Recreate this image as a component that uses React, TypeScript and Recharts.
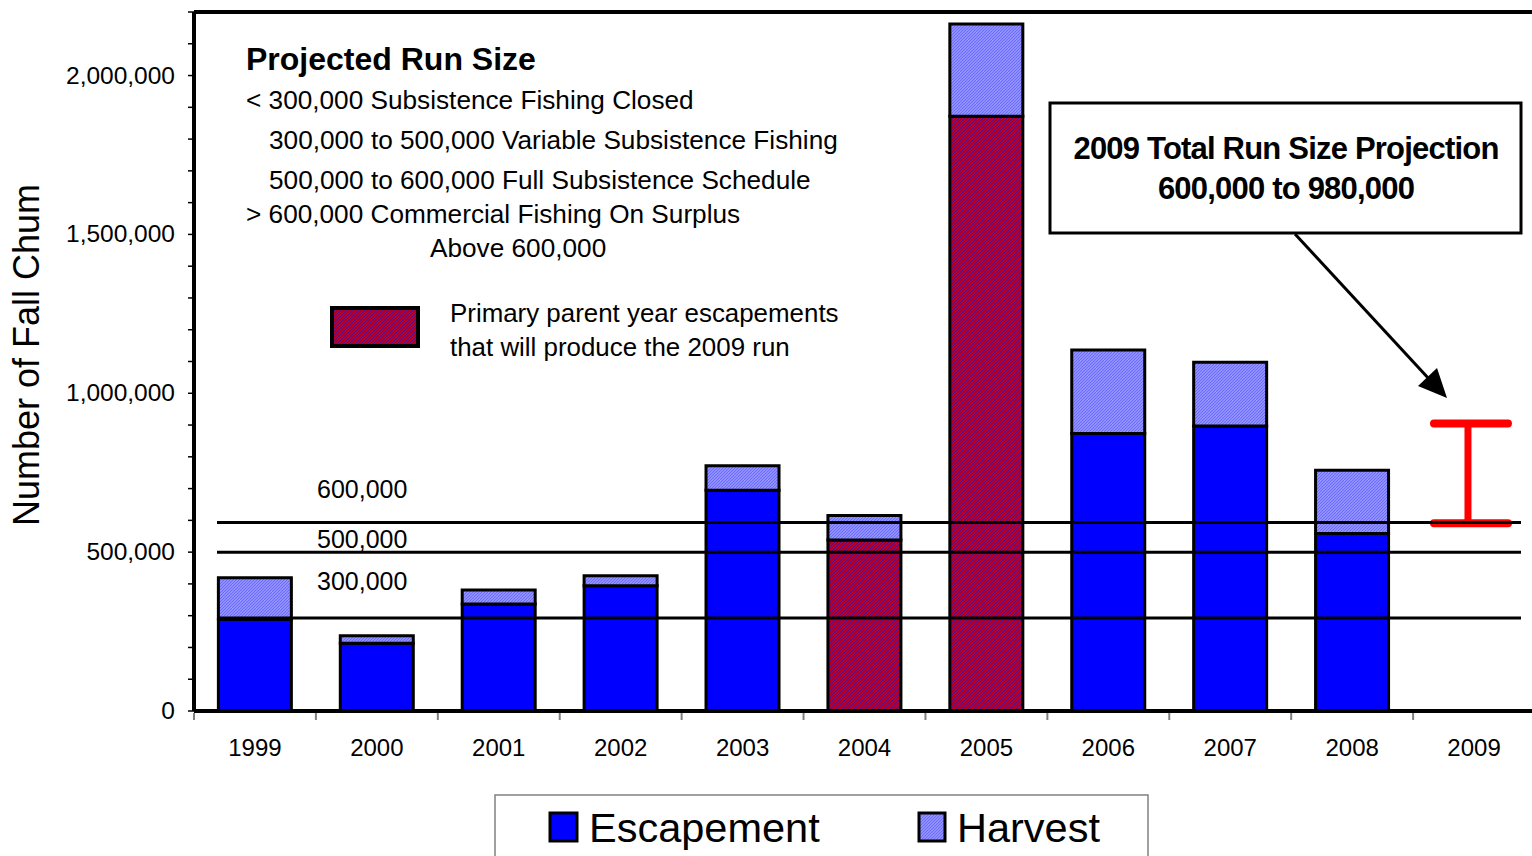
import React from 'react';
import { BarChart, Bar, XAxis, YAxis, ReferenceLine, Cell } from 'recharts';

const years = ['1999', '2000', '2001', '2002', '2003', '2004', '2005', '2006', '2007', '2008', '2009'];
const escapement = [289000, 213000, 337000, 394000, 695000, 538000, 1872000, 873000, 897000, 559000, null];
const harvest = [130000, 24000, 44000, 32000, 77000, 77000, 290000, 263000, 201000, 199000, null];
const parentYears = ['2004', '2005'];
const projectionYear = '2009';
const projectionLow = 591000;
const projectionHigh = 905000;
const yTicks = [0, 100000, 200000, 300000, 400000, 500000, 600000, 700000, 800000, 900000, 1000000, 1100000, 1200000, 1300000, 1400000, 1500000, 1600000, 1700000, 1800000, 1900000, 2000000, 2100000, 2200000];
const refLineValues = [593000, 500000, 293000];
const refLineLabels = ['600,000', '500,000', '300,000'];
const refLabelDy = [-33, -12, -36];

const runSizeTitle = 'Projected Run Size';
const runSizeLines = [
  '< 300,000 Subsistence Fishing Closed',
  '300,000 to 500,000 Variable Subsistence Fishing',
  '500,000 to 600,000 Full Subsistence Schedule',
  '> 600,000 Commercial Fishing On Surplus',
  'Above 600,000',
];
const parentNote = ['Primary parent year escapements', 'that will produce the 2009 run'];
const calloutLines = ['2009 Total Run Size Projection', '600,000 to 980,000'];

const data = years.map((y, i) => ({
  year: y,
  escapement: escapement[i],
  harvest: harvest[i],
  projection: y === projectionYear ? [projectionLow, projectionHigh] : null,
}));

const FONT = '"Liberation Sans", Arial, Helvetica, sans-serif';

const XTick = (props: any) => {
  const { x, y, payload } = props;
  const off = payload && payload.offset ? payload.offset : 61;
  return (
    <g>
      <line x1={x - off} y1={y + 2} x2={x - off} y2={y + 9} stroke="#808080" strokeWidth={2} />
      <text x={x} y={y + 45} textAnchor="middle" fontFamily={FONT} fontSize={24} fill="#000">
        {payload.value}
      </text>
    </g>
  );
};

const YTick = (props: any) => {
  const { x, y, payload } = props;
  const v = payload.value;
  if (v % 500000 !== 0) return <g />;
  return (
    <text x={x} y={y + 8} textAnchor="end" fontFamily={FONT} fontSize={24.5} fill="#000">
      {v.toLocaleString('en-US')}
    </text>
  );
};

const makeRefShape = (idx: number) => (p: any) => {
  const y = p.y1;
  return (
    <g>
      <line x1={p.x1 + 23} y1={y} x2={p.x2 - 14} y2={y} stroke="#000" strokeWidth={3} />
      <text x={317} y={y + refLabelDy[idx] + 8} fontFamily={FONT} fontSize={25} fill="#000">
        {refLineLabels[idx]}
      </text>
    </g>
  );
};

const ProjectionShape = (props: any) => {
  const { x, y, width, height } = props;
  if (height == null || isNaN(height)) return <g />;
  const cx = x + width / 2 - 6;
  return (
    <g>
      <line x1={cx} y1={y} x2={cx} y2={y + height} stroke="#ff0000" strokeWidth={7} />
      <line x1={cx - 34} y1={y} x2={cx + 40} y2={y} stroke="#ff0000" strokeWidth={8} strokeLinecap="round" />
      <line x1={cx - 34} y1={y + height} x2={cx + 40} y2={y + height} stroke="#ff0000" strokeWidth={8} strokeLinecap="round" />
    </g>
  );
};

export default function App() {
  return (
    <div style={{ position: 'absolute', left: 0, top: 0, width: 1532, height: 856, overflow: 'hidden', background: '#fff' }}>
      <svg width={0} height={0} style={{ position: 'absolute' }}>
        <defs>
          <pattern id="harvestPat" patternUnits="userSpaceOnUse" width={3} height={3}>
            <rect width={3} height={3} fill="#9090ff" />
            <path d="M-1,1 L1,-1 M0,3 L3,0 M2,4 L4,2" stroke="#6a6aff" strokeWidth={1} />
          </pattern>
          <pattern id="parentPat" patternUnits="userSpaceOnUse" width={3} height={3}>
            <rect width={3} height={3} fill="#b8002e" />
            <path d="M-1,1 L1,-1 M0,3 L3,0 M2,4 L4,2" stroke="#5a0a80" strokeWidth={1} />
          </pattern>
        </defs>
      </svg>
      <BarChart
        width={1535}
        height={856}
        data={data}
        margin={{ top: 12, right: 0, bottom: 0, left: 0 }}
        barCategoryGap="20%"
      >
        <XAxis
          dataKey="year"
          xAxisId="main"
          height={145}
          axisLine={{ stroke: '#000', strokeWidth: 4 }}
          tickLine={false}
          tickSize={0}
          tickMargin={0}
          tick={<XTick />}
          interval={0}
        />
        <XAxis dataKey="year" xAxisId="proj" hide />
        <YAxis
          width={194}
          domain={[0, 2200000]}
          ticks={yTicks}
          interval={0}
          axisLine={{ stroke: '#000', strokeWidth: 4 }}
          tickLine={{ stroke: '#000', strokeWidth: 1.5 }}
          tickSize={6}
          tickMargin={13}
          tick={<YTick />}
        />
        <Bar dataKey="escapement" stackId="a" xAxisId="main" stroke="#000" strokeWidth={3} isAnimationActive={false}>
          {data.map((d) => (
            <Cell key={d.year} fill={parentYears.includes(d.year) ? 'url(#parentPat)' : '#0000ff'} />
          ))}
        </Bar>
        <Bar dataKey="harvest" stackId="a" xAxisId="main" fill="url(#harvestPat)" stroke="#000" strokeWidth={3} isAnimationActive={false} />
        <Bar dataKey="projection" xAxisId="proj" shape={<ProjectionShape />} isAnimationActive={false} />
        <ReferenceLine y={2200000} xAxisId="main" stroke="#000" strokeWidth={4} />
        {refLineValues.map((v, i) => (
          <ReferenceLine key={v} y={v} xAxisId="main" shape={makeRefShape(i)} />
        ))}
      </BarChart>

      <svg width={1532} height={856} style={{ position: 'absolute', left: 0, top: 0, pointerEvents: 'none' }}>
        <text
          transform="translate(39,355) rotate(-90)"
          textAnchor="middle"
          fontFamily={FONT}
          fontSize={36}
          fill="#000"
        >
          Number of Fall Chum
        </text>

        <text x={246} y={70} fontFamily={FONT} fontSize={32} fontWeight="bold" fill="#000">{runSizeTitle}</text>
        <text x={246} y={109} fontFamily={FONT} fontSize={26.2} fill="#000">{runSizeLines[0]}</text>
        <text x={269} y={149} fontFamily={FONT} fontSize={26.2} fill="#000">{runSizeLines[1]}</text>
        <text x={269} y={189} fontFamily={FONT} fontSize={26.2} fill="#000">{runSizeLines[2]}</text>
        <text x={246} y={223} fontFamily={FONT} fontSize={26.2} fill="#000">{runSizeLines[3]}</text>
        <text x={430} y={257} fontFamily={FONT} fontSize={26.2} fill="#000">{runSizeLines[4]}</text>

        <rect x={332} y={308} width={86} height={38} fill="url(#parentPat)" stroke="#000" strokeWidth={4} />
        <text x={450} y={322} fontFamily={FONT} fontSize={25.9} fill="#000">{parentNote[0]}</text>
        <text x={450} y={356} fontFamily={FONT} fontSize={25.9} fill="#000">{parentNote[1]}</text>

        <rect x={1050} y={103} width={471} height={130} fill="#fff" stroke="#000" strokeWidth={3} />
        <text x={1286} y={159} textAnchor="middle" fontFamily={FONT} fontSize={31} fontWeight="bold" letterSpacing={-0.8} fill="#000">{calloutLines[0]}</text>
        <text x={1286} y={199} textAnchor="middle" fontFamily={FONT} fontSize={31} fontWeight="bold" letterSpacing={-0.8} fill="#000">{calloutLines[1]}</text>
        <line x1={1295} y1={234} x2={1430} y2={380} stroke="#000" strokeWidth={3} />
        <polygon points="1447,398 1418,386 1437,368" fill="#000" />

        <rect x={495} y={795} width={653} height={80} fill="#fff" stroke="#808080" strokeWidth={1.5} />
        <rect x={550} y={813} width={27} height={28} fill="#0000ff" stroke="#000" strokeWidth={3} />
        <text x={589} y={842} fontFamily={FONT} fontSize={41.5} fill="#000">Escapement</text>
        <rect x={919} y={813} width={26} height={28} fill="url(#harvestPat)" stroke="#000" strokeWidth={3} />
        <text x={957} y={842} fontFamily={FONT} fontSize={41.5} fill="#000">Harvest</text>
      </svg>
    </div>
  );
}
